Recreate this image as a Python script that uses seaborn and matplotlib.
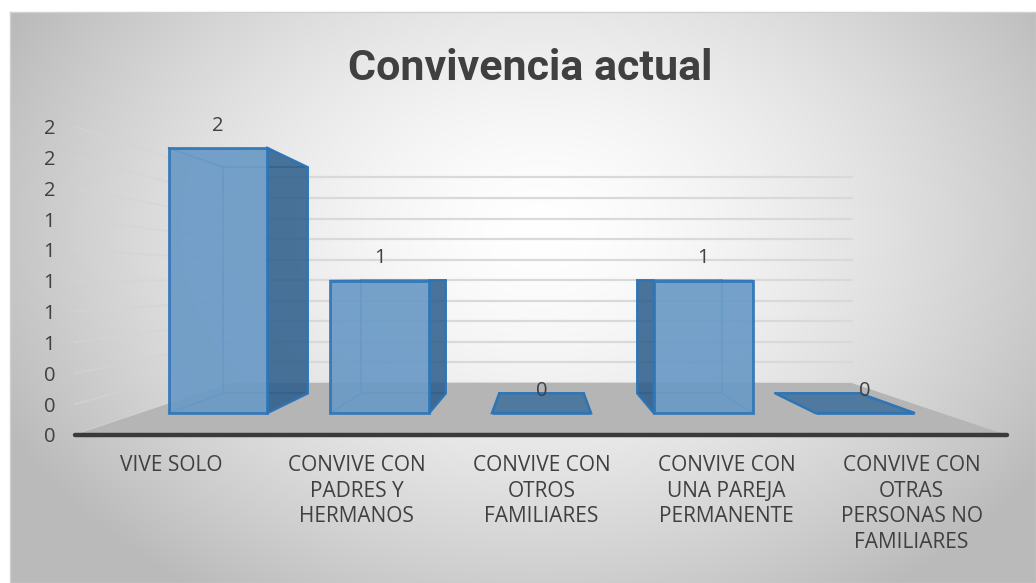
import numpy as np
import matplotlib
matplotlib.use("Agg")
import matplotlib.pyplot as plt
import seaborn as sns
from matplotlib.patches import Polygon

# ---------------- data ----------------
title = "Convivencia actual"
categories = [
    "VIVE SOLO",
    "CONVIVE CON\nPADRES Y\nHERMANOS",
    "CONVIVE CON\nOTROS\nFAMILIARES",
    "CONVIVE CON\nUNA PAREJA\nPERMANENTE",
    "CONVIVE CON\nOTRAS\nPERSONAS NO\nFAMILIARES",
]
values = [2, 1, 0, 1, 0]
axis_values = [0.0, 0.2, 0.4, 0.6, 0.8, 1.0, 1.2, 1.4, 1.6, 1.8, 2.0]

# ---------------- style ----------------
sns.set_theme(style="white")
plt.rcParams['font.family'] = ['Open Sans', 'DejaVu Sans']
TXT = '#404040'

W, H = 1036, 583
fig = plt.figure(figsize=(W / 100, H / 100), dpi=100)
fig.patch.set_facecolor('white')

# background chart area with radial gradient
bx0, by0 = 10, 12
ax_bg = fig.add_axes([bx0 / W, 0, 1 - bx0 / W, 1 - by0 / H], zorder=-10)
xs = np.arange(bx0, W)
ys = np.arange(by0, H)
X, Y = np.meshgrid(xs, ys)
r = np.sqrt(((X - 540) / 600.0) ** 2 + ((Y - 230) / 440.0) ** 2)
c = 1 - 0.27 * np.clip(r, 0, 1) ** 1.5
img = np.dstack([c, c, c])
ax_bg.imshow(img, aspect='auto', extent=[0, 1, 0, 1], interpolation='bilinear')
ax_bg.set_xticks([]); ax_bg.set_yticks([])
for s in ax_bg.spines.values():
    s.set_color('#d0d0d0'); s.set_linewidth(1)

# main axes (front plane of bars: 161.75 px per category, 132.5 px per unit)
px_per_x, px_per_y = 161.75, 132.5
x_center_px, base_px = 541.5, 413
left_px, right_px, top_px, bot_px = 62, 1010, 100, 440
xlim = (2 + (left_px - x_center_px) / px_per_x, 2 + (right_px - x_center_px) / px_per_x)
ylim = ((base_px - bot_px) / px_per_y, (base_px - top_px) / px_per_y)
ax = fig.add_axes([left_px / W, (H - bot_px) / H, (right_px - left_px) / W, (bot_px - top_px) / H], zorder=1)
ax.set_facecolor('none')

# perspective (vanishing point in data coords, depth scales)
VX, VY = 2.0, 1.01
D_FLOOR_FRONT, D_BAR_BACK, D_WALL, D_LABEL = 1.164, 0.853, 0.776, 1.144
XW0, XW1 = -0.48, 4.47


def P(xw, v, d):
    return (VX + (xw - VX) * d, VY + (v - VY) * d)


# back wall grid
for v in axis_values:
    (x0, y0), (x1, y1) = P(XW0, v, D_WALL), P(XW1, v, D_WALL)
    ax.plot([x0, x1], [y0, y1], color='#d9d9d9', lw=1.6, zorder=0.5)
    (a0, b0), (a1, b1) = P(XW0, v, D_FLOOR_FRONT), P(XW0, v, D_WALL)
    ax.plot([a0, a1], [b0, b1], color='#d4d4d4', lw=1.4, alpha=0.6, zorder=0.5)

# floor
floor = [P(XW0, 0, D_FLOOR_FRONT), P(XW1, 0, D_FLOOR_FRONT), P(XW1, 0, D_WALL), P(XW0, 0, D_WALL)]
ax.add_patch(Polygon(floor, closed=True, facecolor='#b5b5b5', edgecolor='none', zorder=1))
(fx0, fy0), (fx1, fy1) = P(XW0, 0, D_FLOOR_FRONT), P(XW1, 0, D_FLOOR_FRONT)
ax.plot([fx0, fx1], [fy0, fy1], color='#3a3a3a', lw=3.2, solid_capstyle='round', zorder=1.5)

# front faces of bars
sns.barplot(x=categories, y=values, width=0.612, color='#5B9BD5', alpha=0.92,
            edgecolor='#2E75B6', linewidth=2.0, ax=ax, zorder=4)
bars = list(ax.containers[0])

SIDE = '#2B5C8A'


def F(xw, vv):
    return P(xw, vv, 1.0)


def B(xw, vv):
    return P(xw, vv, D_BAR_BACK)


for p in bars:
    x0 = p.get_x(); x1 = x0 + p.get_width(); v = p.get_height()
    xc = (x0 + x1) / 2
    # hidden (back) edges visible through the transparent faces
    back = [B(x0, 0), B(x1, 0), B(x1, v), B(x0, v), B(x0, 0)]
    ax.plot([q[0] for q in back], [q[1] for q in back], color='#2E75B6', lw=1.2, alpha=0.8, zorder=2)
    for xw, vv in [(x0, 0), (x1, 0), (x0, v), (x1, v)]:
        ax.plot([F(xw, vv)[0], B(xw, vv)[0]], [F(xw, vv)[1], B(xw, vv)[1]],
                color='#2E75B6', lw=1.2, alpha=0.8, zorder=2)
    # visible side face
    if xc < VX - 1e-6:
        side = [F(x1, 0), F(x1, v), B(x1, v), B(x1, 0)]
    elif xc > VX + 1e-6:
        side = [F(x0, 0), F(x0, v), B(x0, v), B(x0, 0)]
    else:
        side = None
    if side is not None and v > 0:
        ax.add_patch(Polygon(side, closed=True, facecolor=SIDE, alpha=0.85,
                             edgecolor='#2E75B6', linewidth=1.8, zorder=3))
    # top face (visible when below eye level)
    if v < VY - 0.02:
        top = [F(x0, v), F(x1, v), B(x1, v), B(x0, v)]
        ax.add_patch(Polygon(top, closed=True, facecolor='#3f6f9c', alpha=0.85,
                             edgecolor='#2E75B6', linewidth=1.8, zorder=3))
    # data label
    ax.annotate(f"{v:.0f}", xy=(xc, v), xytext=(0, 12.5), textcoords='offset points',
                ha='center', va='baseline', fontsize=14.5, color=TXT, zorder=6)

# axes ticks (left wall front edge and floor front edge)
ax.set_xlim(*xlim)
ax.set_ylim(*ylim)
ax.set_yticks([P(XW0, v, D_FLOOR_FRONT)[1] for v in axis_values],
              [f"{v:.0f}" for v in axis_values])
ax.set_xticks([P(i, 0, D_LABEL)[0] for i in range(len(categories))], categories)
ax.tick_params(axis='y', length=0, pad=5, labelsize=14.5, labelcolor=TXT)
ax.tick_params(axis='x', length=0, pad=11, labelsize=15, labelcolor=TXT)
for lab in ax.get_xticklabels():
    lab.set_linespacing(1.28)
    lab.set_verticalalignment('top')
for s in ax.spines.values():
    s.set_visible(False)
ax.grid(False)
ax.set_xlabel(''); ax.set_ylabel('')

fig.text(530 / W, 1 - 80 / H, title, ha='center', va='baseline', fontsize=31,
         fontweight='bold', color=TXT, family=['Roboto', 'Open Sans', 'DejaVu Sans'])

fig.savefig('out.png', dpi=100)
